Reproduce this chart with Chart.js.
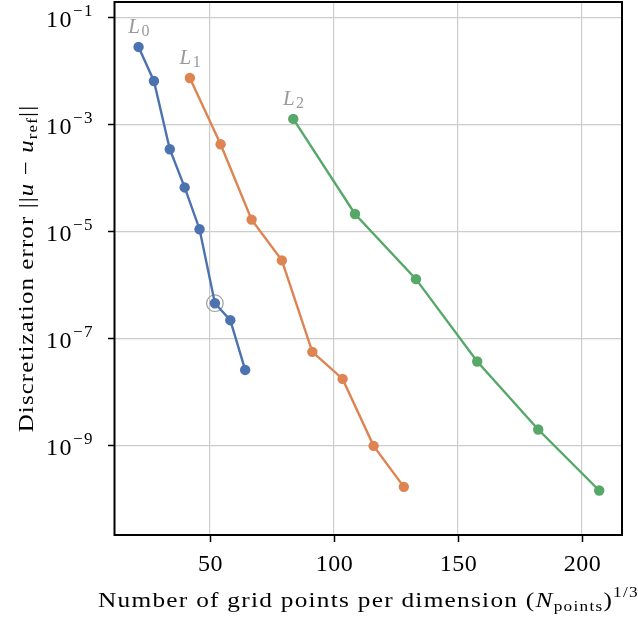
<!DOCTYPE html>
<html>
<head>
<meta charset="utf-8">
<script src="https://cdn.jsdelivr.net/npm/chart.js@4"></script>
<style>
  html, body { margin: 0; padding: 0; background: #fff; }
  canvas { display: block; }
</style>
</head>
<body>
<canvas id="errChart" width="638" height="621"></canvas>
<script>
// grid size (N_points)^(1/3) and discretization error per refinement level
var levelNames = ['0', '1', '2'];
var l0Points = [21.3, 27.5, 33.9, 39.9, 45.9, 52.1, 58.3, 64.3];
var l0Error = [2.79e-2, 6.45e-3, 3.41e-4, 6.59e-5, 1.09e-5, 4.51e-7, 2.17e-7, 2.55e-8];
var l1Points = [42.0, 54.4, 66.9, 79.1, 91.4, 103.6, 116.1, 128.3];
var l1Error = [7.33e-3, 4.23e-4, 1.65e-5, 2.85e-6, 5.55e-8, 1.73e-8, 9.7e-10, 1.66e-10];
var l2Points = [83.7, 108.6, 133.2, 157.9, 182.5, 207.1];
var l2Error = [1.26e-3, 2.10e-5, 1.27e-6, 3.66e-8, 1.96e-9, 1.42e-10];
var highlightIndex = 5; // marked point on level 0

var xTicks = [50, 100, 150, 200];
var yExponents = [-1, -3, -5, -7, -9];

var colors = ['#4C72B0', '#DD8452', '#55A868'];
var serif = '"Liberation Serif", "DejaVu Serif", serif';

function toXY(xs, ys) {
  return xs.map(function (x, i) { return { x: x, y: ys[i] }; });
}

function lineSet(xs, ys, color) {
  return {
    data: toXY(xs, ys),
    showLine: true,
    borderColor: color,
    backgroundColor: color,
    borderWidth: 2.4,
    pointRadius: 5.2,
    pointBorderWidth: 0,
    pointBackgroundColor: color,
    order: 1
  };
}

// draws a run of text pieces with their own font and vertical shift,
// optionally widened by sx and tracked by spacing
function drawRich(ctx, parts, x, y, align, spacing, sx) {
  sx = sx || 1;
  ctx.save();
  ctx.letterSpacing = (spacing || 0) + 'px';
  var total = 0;
  parts.forEach(function (p) {
    ctx.font = p.f;
    p.w = ctx.measureText(p.t).width;
    total += p.w;
  });
  var start = 0;
  if (align === 'center') start = -total * sx / 2;
  if (align === 'right') start = -total * sx;
  ctx.translate(x + start, y);
  ctx.scale(sx, 1);
  ctx.textAlign = 'left';
  ctx.textBaseline = 'alphabetic';
  var cx = 0;
  parts.forEach(function (p) {
    ctx.font = p.f;
    ctx.fillText(p.t, cx, p.dy || 0);
    cx += p.w;
  });
  ctx.restore();
}

var decorations = {
  id: 'decorations',
  afterDraw: function (chart) {
    var ctx = chart.ctx;
    var area = chart.chartArea;
    var xs = chart.scales.x, ys = chart.scales.y;
    var tickLen = 7;

    ctx.save();
    ctx.strokeStyle = '#000';
    ctx.fillStyle = '#000';

    // tick marks and labels on x
    ctx.lineWidth = 1.5;
    xTicks.forEach(function (v) {
      var px = Math.round(xs.getPixelForValue(v)) + 0.5;
      ctx.beginPath();
      ctx.moveTo(px, area.bottom);
      ctx.lineTo(px, area.bottom + tickLen);
      ctx.stroke();
      drawRich(ctx, [{ t: String(v), f: '24px ' + serif }], px, 571, 'center', 0.5);
    });

    // tick marks and 10^k labels on y
    yExponents.forEach(function (e) {
      var py = Math.round(ys.getPixelForValue(Math.pow(10, e))) + 0.5;
      ctx.beginPath();
      ctx.moveTo(area.left - tickLen, py);
      ctx.lineTo(area.left, py);
      ctx.stroke();
      drawRich(ctx, [
        { t: '10', f: '24px ' + serif },
        { t: '\u2212' + (-e), f: '17px ' + serif, dy: -11 }
      ], area.left - 21, py + 9.5, 'right', 1.5);
    });

    // frame around the axes
    ctx.lineWidth = 2;
    ctx.strokeRect(area.left - 0.5, area.top, area.right - area.left + 0.5, area.bottom - area.top);

    // level labels above the first point of each series
    ctx.fillStyle = '#999999';
    [[l0Points, l0Error], [l1Points, l1Error], [l2Points, l2Error]].forEach(function (s, i) {
      var px = xs.getPixelForValue(s[0][0]);
      var py = ys.getPixelForValue(s[1][0]);
      drawRich(ctx, [
        { t: 'L', f: 'italic 21px ' + serif },
        { t: levelNames[i], f: '16px ' + serif, dy: 3 }
      ], px + 1, py - 14, 'center', 1.5);
    });

    // axis titles
    ctx.fillStyle = '#000';
    drawRich(ctx, [
      { t: 'Number of grid points per dimension (', f: '22px ' + serif },
      { t: 'N', f: 'italic 22px ' + serif },
      { t: 'points', f: '15px ' + serif, dy: 4 },
      { t: ')', f: '22px ' + serif },
      { t: '1/3', f: '15px ' + serif, dy: -10 }
    ], (area.left + area.right) / 2, 607, 'center', 1.1, 1.15);

    ctx.translate(33, (area.top + area.bottom) / 2);
    ctx.rotate(-Math.PI / 2);
    drawRich(ctx, [
      { t: 'Discretization error ||', f: '22px ' + serif },
      { t: 'u', f: 'italic 22px ' + serif },
      { t: ' \u2212 ', f: '22px ' + serif },
      { t: 'u', f: 'italic 22px ' + serif },
      { t: 'ref', f: '15px ' + serif, dy: 4 },
      { t: '||', f: '22px ' + serif }
    ], 0, 0, 'center', 1.0, 1.13);
    ctx.restore();
  }
};

var ctx = document.getElementById('errChart').getContext('2d');
var errChart = new Chart(ctx, {
  type: 'scatter',
  data: {
    datasets: [
      lineSet(l0Points, l0Error, colors[0]),
      lineSet(l1Points, l1Error, colors[1]),
      lineSet(l2Points, l2Error, colors[2]),
      {
        data: [{ x: l0Points[highlightIndex], y: l0Error[highlightIndex] }],
        showLine: false,
        pointRadius: 8.3,
        pointBorderWidth: 1.2,
        pointBorderColor: '#a0a0a0',
        pointBackgroundColor: 'rgba(0,0,0,0)',
        order: 5
      }
    ]
  },
  options: {
    responsive: false,
    devicePixelRatio: 1,
    animation: false,
    layout: { autoPadding: false, padding: { top: 2, right: 16, left: 0, bottom: 0 } },
    plugins: { legend: { display: false }, tooltip: { enabled: false } },
    scales: {
      x: {
        type: 'linear',
        min: 11.8,
        max: 216.3,
        afterBuildTicks: function (scale) {
          scale.ticks = xTicks.map(function (v) { return { value: v }; });
        },
        afterFit: function (scale) { scale.height = 86; },
        grid: { color: '#cccccc', lineWidth: 1.2, drawTicks: false },
        border: { display: false },
        ticks: { display: false }
      },
      y: {
        type: 'logarithmic',
        min: Math.pow(10, -10.68),
        max: Math.pow(10, -0.714),
        afterBuildTicks: function (scale) {
          scale.ticks = yExponents.map(function (e) { return { value: Math.pow(10, e) }; });
        },
        afterFit: function (scale) { scale.width = 115; },
        grid: { color: '#cccccc', lineWidth: 1.2, drawTicks: false },
        border: { display: false },
        ticks: { display: false }
      }
    }
  },
  plugins: [decorations]
});
</script>
</body>
</html>
